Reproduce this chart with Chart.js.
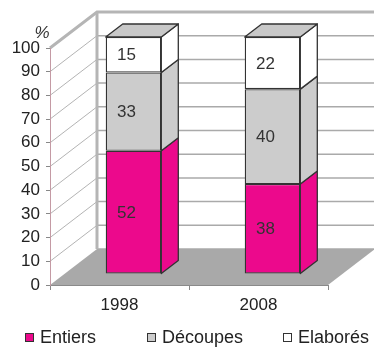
<!DOCTYPE html>
<html><head><meta charset="utf-8">
<script src="https://cdn.jsdelivr.net/npm/chart.js@4.4.0/dist/chart.umd.min.js"></script>
<style>html,body{margin:0;padding:0;background:#fff;overflow:hidden}#wrap{width:374px;height:347px;position:relative}</style>
</head><body><div id="wrap"><canvas id="c" width="374" height="347"></canvas></div>
<script>
const categories = ['1998', '2008'];
const entiers = [52, 38];
const decoupes = [33, 40];
const elabores = [15, 22];
const seriesNames = ['Entiers', 'Découpes', 'Elaborés'];
const seriesColors = ['#EC098C', '#CCCCCC', '#FFFFFF'];
const yTicks = [0, 10, 20, 30, 40, 50, 60, 70, 80, 90, 100];
const unitLabel = '%';

const FONT = "'Liberation Sans', Arial, Helvetica, sans-serif";
const WALL = {dx: 47, dy: -36};   // depth of the box
const BAR_SHIFT = {dx: 14, dy: -11}; // bars sit inside the depth
const BAR_DEPTH = {dx: 17, dy: -13};
const OUTLINE = '#333333';

function poly(ctx, pts) {
  ctx.beginPath();
  ctx.moveTo(pts[0][0], pts[0][1]);
  for (let i = 1; i < pts.length; i++) ctx.lineTo(pts[i][0], pts[i][1]);
  ctx.closePath();
}

const threeD = {
  id: 'threeD',
  beforeDraw(chart) {
    const ctx = chart.ctx;
    const ys = chart.scales.y;
    const ca = chart.chartArea;
    const L = ca.left, R = ca.right;
    const B = ys.getPixelForValue(0), T = ys.getPixelForValue(100);
    ctx.save();
    // back wall gridlines
    ctx.strokeStyle = '#aaaaaa';
    ctx.lineWidth = 1.5;
    yTicks.forEach(v => {
      const y = ys.getPixelForValue(v) + WALL.dy;
      ctx.beginPath();
      ctx.moveTo(L + WALL.dx, y);
      ctx.lineTo(chart.width, y);
      ctx.stroke();
    });
    // left wall diagonal gridlines
    ctx.strokeStyle = '#a0a0a0';
    ctx.lineWidth = 0.8;
    yTicks.forEach(v => {
      if (v === 0 || v === 100) return;
      const y = ys.getPixelForValue(v);
      ctx.beginPath();
      ctx.moveTo(L, y);
      ctx.lineTo(L + WALL.dx, y + WALL.dy);
      ctx.stroke();
    });
    // floor
    ctx.fillStyle = '#a9a9a9';
    poly(ctx, [[L, B], [R, B], [R + WALL.dx, B + WALL.dy], [L + WALL.dx, B + WALL.dy]]);
    ctx.fill();
    // thick wall edges
    ctx.strokeStyle = '#b5b5b5';
    ctx.lineWidth = 3;
    ctx.beginPath();
    ctx.moveTo(L + WALL.dx, B + WALL.dy);
    ctx.lineTo(L + WALL.dx, T + WALL.dy);
    ctx.stroke();
    ctx.beginPath();
    ctx.moveTo(L, T);
    ctx.lineTo(L + WALL.dx, T + WALL.dy);
    ctx.lineTo(chart.width, T + WALL.dy);
    ctx.stroke();
    ctx.restore();
  },
  beforeDatasetsDraw(chart) {
    chart.ctx.save();
    chart.ctx.translate(BAR_SHIFT.dx, BAR_SHIFT.dy);
  },
  afterDatasetsDraw(chart) {
    const ctx = chart.ctx;
    const n = chart.data.datasets.length;
    ctx.lineJoin = 'round';
    ctx.lineWidth = 1.3;
    ctx.strokeStyle = OUTLINE;
    for (let i = 0; i < n; i++) {
      const meta = chart.getDatasetMeta(i);
      meta.data.forEach(bar => {
        const p = bar.getProps(['x', 'y', 'base', 'width'], true);
        const l = p.x - p.width / 2, r = p.x + p.width / 2;
        const t = Math.min(p.y, p.base), b = Math.max(p.y, p.base);
        ctx.fillStyle = chart.data.datasets[i].backgroundColor;
        poly(ctx, [[r, t], [r + BAR_DEPTH.dx, t + BAR_DEPTH.dy], [r + BAR_DEPTH.dx, b + BAR_DEPTH.dy], [r, b]]);
        ctx.fill(); ctx.stroke();
        if (i === n - 1) {
          ctx.fillStyle = '#c8c8c8';
          poly(ctx, [[l, t], [l + BAR_DEPTH.dx, t + BAR_DEPTH.dy], [r + BAR_DEPTH.dx, t + BAR_DEPTH.dy], [r, t]]);
          ctx.fill(); ctx.stroke();
        }
      });
    }
    // value labels
    ctx.fillStyle = '#333333';
    ctx.font = '17px ' + FONT;
    ctx.textAlign = 'center';
    ctx.textBaseline = 'middle';
    for (let i = 0; i < n; i++) {
      const meta = chart.getDatasetMeta(i);
      meta.data.forEach((bar, j) => {
        const p = bar.getProps(['x', 'y', 'base'], true);
        ctx.fillText(String(chart.data.datasets[i].data[j]), p.x - 7, (p.y + p.base) / 2 + 1);
      });
    }
    ctx.restore();
  },
  afterDraw(chart) {
    const ctx = chart.ctx;
    ctx.save();
    // unit label
    ctx.fillStyle = '#333333';
    ctx.font = 'italic 17px ' + FONT;
    ctx.textAlign = 'center';
    ctx.textBaseline = 'middle';
    ctx.fillText(unitLabel, 42, 33);
    // legend
    const boxX = [25, 147, 283];
    ctx.font = '18px ' + FONT;
    ctx.textAlign = 'left';
    chart.data.datasets.forEach((ds, i) => {
      ctx.fillStyle = ds.backgroundColor;
      ctx.fillRect(boxX[i] + 0.5, 333.5, 8, 8);
      ctx.strokeStyle = OUTLINE;
      ctx.lineWidth = 1;
      ctx.strokeRect(boxX[i] + 0.5, 333.5, 8, 8);
      ctx.fillStyle = '#222222';
      ctx.fillText(ds.label, boxX[i] + 15, 338);
    });
    ctx.restore();
  }
};

const datasets = [entiers, decoupes, elabores].map((d, i) => ({
  label: seriesNames[i],
  data: d,
  backgroundColor: seriesColors[i],
  borderColor: OUTLINE,
  borderWidth: 1.3,
  borderSkipped: false,
  barPercentage: 0.4,
  categoryPercentage: 1,
  clip: false
}));

new Chart(document.getElementById('c'), {
  type: 'bar',
  data: {labels: categories, datasets},
  options: {
    responsive: false,
    devicePixelRatio: 1,
    animation: false,
    layout: {padding: {top: 48, right: 46, left: 0, bottom: 0}},
    plugins: {legend: {display: false}, tooltip: {enabled: false}},
    scales: {
      x: {
        stacked: true,
        grid: {offset: true, drawOnChartArea: false, drawTicks: true, tickLength: 5, color: '#888888'},
        border: {display: true, color: '#8a8a8a', width: 1},
        ticks: {font: {family: FONT, size: 17}, color: '#222222', padding: 5},
        afterFit: s => { s.height = 62; }
      },
      y: {
        stacked: true,
        min: 0, max: 100,
        afterBuildTicks: s => { s.ticks = yTicks.map(v => ({value: v})); },
        grid: {drawOnChartArea: false, drawTicks: true, tickLength: 4, color: '#888888'},
        border: {display: true, color: '#c49aa4', width: 1},
        ticks: {font: {family: FONT, size: 17}, color: '#222222', padding: 6},
        afterFit: s => { s.width = 50; }
      }
    }
  },
  plugins: [threeD]
});
</script></body></html>
